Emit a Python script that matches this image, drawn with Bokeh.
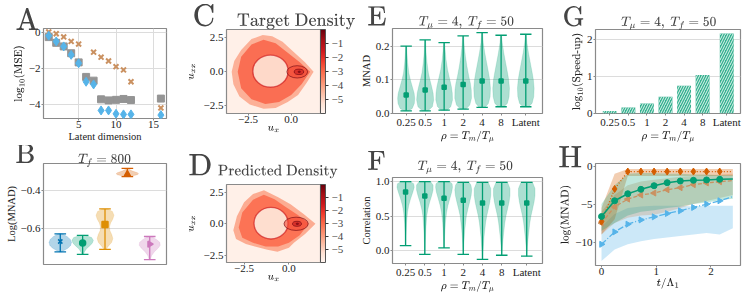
from bokeh.plotting import figure
from bokeh.layouts import row, column
from bokeh.models import (Range1d, FixedTicker, CustomJSTickFormatter, ColorBar,
                          LinearColorMapper, ColumnDataSource)
from bokeh.palettes import Reds256
from bokeh.embed import file_html
from bokeh.resources import INLINE
import math

FONT = "Liberation Serif"
FRAME = "#8a8a8a"
GRID = "#dcdcdc"
C_BLUE, C_ORANGE, C_GREEN, C_RED = "#0173b2", "#de8f05", "#029e73", "#d55e00"
C_PINK, C_BROWN, C_GREY, C_LBLUE = "#cc78bc", "#ca9161", "#949494", "#56b4e9"

# ---------------- data ----------------
a_dims = [1, 2, 3, 4, 5, 6, 7, 8, 9, 10, 11, 12, 16]
a_grey = [-0.25, -0.57, -0.77, -1.15, -1.66, -2.47, -2.68, -3.72, -3.78, -3.75, -3.70, -3.76, -3.68]
a_blue = [-0.17, -0.49, -0.77, -1.24, -1.71, -2.74, -2.89, -4.34, -4.34, -4.53, -4.56, -4.56, -4.60]
a_orange_dims = [1, 2, 3, 4, 5, 7, 8, 9, 10, 11, 12, 16]
a_orange = [0.04, -0.06, -0.24, -0.49, -0.64, -1.09, -1.37, -1.58, -1.90, -2.08, -2.74, -4.20]
a_xticks = [5, 10, 15]
a_yticks = [-4, -2, 0]

b_pos = [0, 1, 2, 3, 4]
b_colors = [C_BLUE, C_GREEN, C_ORANGE, C_RED, C_PINK]
b_mean = [-0.666, -0.674, -0.578, -0.317, -0.680]
b_min = [-0.720, -0.733, -0.707, -0.330, -0.760]
b_max = [-0.626, -0.634, -0.497, -0.287, -0.640]
b_prof_y = [
    [-0.720, -0.710, -0.700, -0.685, -0.670, -0.655, -0.640, -0.626],
    [-0.733, -0.720, -0.705, -0.690, -0.675, -0.660, -0.645, -0.634],
    [-0.707, -0.690, -0.670, -0.650, -0.630, -0.610, -0.590, -0.570, -0.550, -0.530, -0.510, -0.497],
    [-0.330, -0.325, -0.320, -0.315, -0.310, -0.300, -0.290, -0.287],
    [-0.760, -0.740, -0.720, -0.700, -0.685, -0.670, -0.655, -0.640],
]
b_prof_w = [
    [0.05, 0.20, 0.35, 0.47, 0.50, 0.45, 0.30, 0.08],
    [0.03, 0.08, 0.16, 0.30, 0.43, 0.48, 0.40, 0.10],
    [0.04, 0.15, 0.30, 0.35, 0.30, 0.22, 0.20, 0.25, 0.35, 0.40, 0.33, 0.10],
    [0.05, 0.25, 0.45, 0.50, 0.45, 0.20, 0.06, 0.02],
    [0.03, 0.08, 0.20, 0.38, 0.47, 0.45, 0.30, 0.08],
]
b_yticks = [-0.6, -0.4]

# density contours (log density levels)
c_outer_x = [-3.45, -3.35, -3.0, -2.4, -1.6, -0.9, -0.2, 0.4, 0.9, 1.3, 0.8, 0.1, -0.5, -1.1, -1.65, -2.3, -2.9, -3.3]
c_outer_y = [0.0, -0.9, -1.8, -2.4, -2.7, -2.65, -2.2, -1.7, -0.8, 0.0, 0.7, 1.5, 2.2, 2.6, 2.7, 2.4, 1.6, 0.8]
c_core_x = [-3.1, -2.9, -2.3, -1.5, -0.7, 0.0, 0.6, 1.1, 0.5, -0.2, -0.9, -1.6, -2.3, -2.9]
c_core_y = [0.0, -1.2, -2.0, -2.35, -2.2, -1.7, -0.9, 0.0, 0.7, 1.4, 2.1, 2.35, 2.0, 1.1]
c_levels = [-4.1, -2.9]
c_hole = dict(x=-1.2, y=0.05, w=2.05, h=2.35, v=-5.1)
c_spiral = dict(x=[0.35, 0.45, 0.47], y=[0.0, 0.0, 0.0], w=[1.2, 0.55, 0.14], h=[0.9, 0.4, 0.11], v=[-2.4, -1.4, -0.4])

d_outer_x = [-3.1, -2.95, -2.4, -1.9, -1.2, -0.64, 0.0, 0.28, 0.9, 1.48, 0.8, 0.09, -0.6, -1.39, -2.0, -2.5, -2.9]
d_outer_y = [-0.5, -1.2, -1.6, -1.8, -2.05, -2.2, -1.9, -1.5, -0.8, 0.0, 0.8, 1.55, 2.1, 2.65, 2.35, 1.7, 0.6]
d_core_x = [-2.8, -2.6, -2.0, -1.3, -0.6, 0.0, 0.6, 1.1, 0.5, -0.2, -0.8, -1.4, -2.0, -2.6]
d_core_y = [-0.3, -1.1, -1.5, -1.8, -1.8, -1.5, -0.9, 0.0, 0.7, 1.35, 1.95, 2.3, 1.9, 0.9]
d_levels = [-4.0, -3.0]
d_hole = dict(x=-1.0, y=0.05, w=1.9, h=2.5, v=-5.2)
d_spiral = dict(x=[0.4, 0.45, 0.47], y=[0.0, 0.0, 0.0], w=[1.35, 0.5, 0.14], h=[1.05, 0.4, 0.11], v=[-2.5, -1.3, -0.4])
cb_ticks = [-5, -4, -3, -2, -1]

rho_pos = [0, 1, 2, 3, 4, 5, 6.3]
rho_labels = ["0.25", "0.5", "1", "2", "4", "8", "Latent"]
e_mean = [0.055, 0.070, 0.078, 0.086, 0.096, 0.096, 0.096]
e_min = [0.008, 0.008, 0.010, 0.013, 0.018, 0.020, 0.020]
e_max = [0.200, 0.218, 0.210, 0.230, 0.240, 0.232, 0.235]
e_prof_y = [
    [0.008, 0.015, 0.03, 0.045, 0.06, 0.08, 0.10, 0.12, 0.15, 0.18, 0.20],
    [0.008, 0.02, 0.04, 0.06, 0.08, 0.10, 0.12, 0.15, 0.18, 0.218],
    [0.010, 0.02, 0.04, 0.06, 0.08, 0.10, 0.13, 0.16, 0.19, 0.21],
    [0.013, 0.025, 0.045, 0.07, 0.09, 0.11, 0.14, 0.17, 0.20, 0.23],
    [0.018, 0.03, 0.05, 0.075, 0.10, 0.12, 0.15, 0.18, 0.21, 0.24],
    [0.020, 0.03, 0.05, 0.075, 0.10, 0.12, 0.15, 0.18, 0.21, 0.232],
    [0.020, 0.03, 0.05, 0.075, 0.10, 0.12, 0.15, 0.18, 0.21, 0.235],
]
e_prof_w = [
    [0.12, 0.32, 0.43, 0.45, 0.42, 0.32, 0.22, 0.14, 0.08, 0.04, 0.02],
    [0.15, 0.38, 0.45, 0.42, 0.34, 0.25, 0.17, 0.10, 0.05, 0.02],
    [0.15, 0.35, 0.44, 0.43, 0.38, 0.30, 0.18, 0.10, 0.05, 0.02],
    [0.15, 0.35, 0.44, 0.43, 0.38, 0.30, 0.20, 0.12, 0.06, 0.02],
    [0.15, 0.33, 0.42, 0.44, 0.40, 0.34, 0.24, 0.14, 0.06, 0.02],
    [0.15, 0.33, 0.42, 0.44, 0.40, 0.34, 0.24, 0.14, 0.06, 0.02],
    [0.15, 0.33, 0.42, 0.44, 0.40, 0.34, 0.24, 0.14, 0.06, 0.02],
]
f_mean = [0.85, 0.79, 0.76, 0.73, 0.69, 0.69, 0.69]
f_min = [0.07, -0.056, 0.037, -0.056, -0.13, -0.07, -0.084]
f_max = [1.0, 1.0, 1.0, 0.99, 0.99, 0.99, 0.99]
f_prof_y = [
    [0.07, 0.2, 0.4, 0.55, 0.65, 0.75, 0.85, 0.92, 0.97, 1.0],
    [-0.056, 0.1, 0.3, 0.5, 0.6, 0.7, 0.8, 0.88, 0.95, 1.0],
    [0.037, 0.2, 0.4, 0.55, 0.65, 0.75, 0.85, 0.92, 0.97, 1.0],
    [-0.056, 0.1, 0.3, 0.5, 0.6, 0.7, 0.8, 0.88, 0.95, 0.99],
    [-0.13, 0.0, 0.2, 0.4, 0.5, 0.6, 0.7, 0.8, 0.9, 0.99],
    [-0.07, 0.05, 0.2, 0.4, 0.5, 0.6, 0.7, 0.8, 0.9, 0.99],
    [-0.084, 0.05, 0.2, 0.4, 0.5, 0.6, 0.7, 0.8, 0.9, 0.99],
]
f_prof_w = [
    [0.01, 0.02, 0.05, 0.10, 0.16, 0.26, 0.38, 0.45, 0.42, 0.25],
    [0.01, 0.02, 0.05, 0.10, 0.16, 0.25, 0.36, 0.43, 0.43, 0.30],
    [0.01, 0.03, 0.07, 0.13, 0.20, 0.30, 0.40, 0.44, 0.42, 0.30],
    [0.01, 0.03, 0.08, 0.16, 0.24, 0.33, 0.41, 0.44, 0.40, 0.30],
    [0.01, 0.03, 0.08, 0.16, 0.22, 0.30, 0.38, 0.43, 0.43, 0.30],
    [0.01, 0.03, 0.08, 0.16, 0.22, 0.30, 0.38, 0.43, 0.43, 0.30],
    [0.01, 0.03, 0.08, 0.16, 0.22, 0.30, 0.38, 0.43, 0.43, 0.30],
]
g_speedup = [0.07, 0.16, 0.27, 0.45, 0.75, 1.04, 2.16]

h_x = [0, 0.24, 0.48, 0.72, 0.96, 1.2, 1.44, 1.68, 1.92, 2.16, 2.4]
h_orange = [-7.3, -3.0, -0.7, -0.7, -0.7, -0.7, -0.7, -0.7, -0.7, -0.7, -0.7]
h_orange_lo = [-9.0, -7.0, -1.3, -1.3, -1.3, -1.3, -1.3, -1.3, -1.3, -1.3, -1.3]
h_orange_hi = [-5.5, -1.0, -0.35, -0.35, -0.35, -0.35, -0.35, -0.35, -0.35, -0.35, -0.35]
h_green = [-6.64, -4.56, -3.63, -3.05, -2.57, -2.17, -1.95, -1.86, -1.81, -1.73, -1.70]
h_green_lo = [-8.5, -7.5, -6.5, -6.0, -5.8, -5.5, -5.3, -5.0, -4.8, -4.5, -4.3]
h_green_hi = [-5.0, -2.5, -1.0, -0.9, -0.9, -1.0, -1.0, -1.1, -1.1, -1.2, -1.2]
h_brown = [-7.5, -5.35, -4.34, -3.8, -3.54, -3.1, -2.83, -2.43, -2.2, -2.04, -1.9]
h_brown_lo = [-9.0, -7.5, -6.8, -6.5, -6.4, -6.0, -5.5, -5.0, -4.6, -4.2, -3.8]
h_brown_hi = [-6.0, -3.8, -2.5, -2.0, -1.8, -1.6, -1.4, -1.3, -1.2, -1.1, -1.0]
h_blue = [-10.3, -8.67, -7.65, -7.08, -6.68, -6.24, -5.88, -5.44, -5.0, -4.56, -4.0]
h_blue_lo = [-12.5, -11.0, -10.3, -9.9, -9.6, -9.4, -9.2, -9.0, -8.8, -9.0, -8.2]
h_blue_hi = [-8.0, -6.3, -5.5, -5.3, -5.2, -5.2, -5.2, -5.3, -5.2, -5.2, -5.2]


def fmt(dec):
    return CustomJSTickFormatter(code=(
        "const s = Math.abs(tick).toFixed(%d);"
        "return (tick < -1e-9 ? '\\u2212' : '') + s;") % dec)


def make(w, h, xr, yr, bl, br, bt, bb):
    p = figure(width=w, height=h, x_range=Range1d(*xr), y_range=Range1d(*yr),
               output_backend="svg", toolbar_location=None,
               min_border_left=bl, min_border_right=br, min_border_top=bt, min_border_bottom=bb)
    p.outline_line_color = FRAME
    p.outline_line_width = 1.2
    p.xgrid.visible = False
    p.ygrid.visible = False
    p.background_fill_color = "white"
    p.border_fill_color = "white"
    for ax in p.axis:
        ax.axis_line_color = None
        ax.major_tick_line_color = FRAME
        ax.major_tick_out = 2
        ax.major_tick_in = 0
        ax.minor_tick_line_color = None
        ax.major_label_text_font = FONT
        ax.major_label_text_font_size = "11px"
        ax.major_label_text_color = "#222222"
        ax.major_label_standoff = 1
        ax.axis_label_text_font = FONT
        ax.axis_label_text_font_size = "10.5px"
        ax.axis_label_text_font_style = "normal"
        ax.axis_label_text_color = "#222222"
        ax.axis_label_standoff = 1
    p.xaxis.major_label_standoff = 0
    p.xaxis.axis_label_standoff = 0
    return p


def head(p, letter, size_cmd, base_px, title, gap_em, offset, standoff):
    # panel letter and panel title share one title line
    txt = "{%s\\mathrm{%s}}" % (size_cmd, letter)
    if title:
        txt += "\\hspace{%.2fem}%s" % (gap_em, title)
    p.title.text = "$$" + txt + "$$"
    p.title.text_font_size = "%gpx" % base_px
    p.title.text_font_style = "normal"
    p.title.align = "left"
    p.title.offset = offset
    if "standoff" in p.title.properties():
        p.title.standoff = standoff


def violin_shape(pos, ys, ws):
    xs = [pos + w for w in ws] + [pos - w for w in reversed(ws)]
    yy = list(ys) + list(reversed(ys))
    return xs, yy


def violins(p, pos, prof_y, prof_w, vmin, vmax, vmean, colors, markers, cap, alpha, msize):
    for i, ps in enumerate(pos):
        xs, ys = violin_shape(ps, prof_y[i], prof_w[i])
        c = colors[i]
        p.patch(xs, ys, fill_color=c, fill_alpha=alpha, line_color=c, line_alpha=0.15)
        p.segment(x0=[ps], y0=[vmin[i]], x1=[ps], y1=[vmax[i]], line_color=c, line_width=1.3)
        p.segment(x0=[ps - cap, ps - cap], y0=[vmin[i], vmax[i]], x1=[ps + cap, ps + cap],
                  y1=[vmin[i], vmax[i]], line_color=c, line_width=1.3)
        mk, ang = markers[i]
        p.scatter([ps], [vmean[i]], marker=mk, angle=ang, size=msize, fill_color=c, line_color=c,
                  line_width=1.5)


pal = list(Reds256)
def _lum(hx):
    return int(hx[1:3], 16) + int(hx[3:5], 16) + int(hx[5:7], 16)
if _lum(pal[0]) < _lum(pal[-1]):
    pal = pal[::-1]
mapper = LinearColorMapper(palette=pal, low=-6, high=0)


def density(p, ox, oy, core_x, core_y, levels, hole, spiral):
    p.background_fill_color = pal[8]
    src = ColumnDataSource(dict(xs=[ox, core_x], ys=[oy, core_y], v=levels))
    p.patches("xs", "ys", source=src, fill_color={"field": "v", "transform": mapper},
              fill_alpha=0.85, line_color=None)
    hs = ColumnDataSource(dict(x=[hole["x"]], y=[hole["y"]], w=[hole["w"]], h=[hole["h"]], v=[hole["v"]]))
    p.ellipse(x="x", y="y", width="w", height="h", source=hs,
              fill_color={"field": "v", "transform": mapper}, line_color="#cb181d",
              line_alpha=0.65, line_width=1.4)
    ss = ColumnDataSource(spiral)
    p.ellipse(x="x", y="y", width="w", height="h", source=ss,
              fill_color={"field": "v", "transform": mapper}, fill_alpha=0.6,
              line_color="#67000d", line_width=0.8, line_alpha=0.75)
    p.xaxis.ticker = FixedTicker(ticks=[-2.5, 0.0])
    p.yaxis.ticker = FixedTicker(ticks=[-2.5, 0.0, 2.5])
    p.xaxis.formatter = fmt(1)
    p.yaxis.formatter = fmt(1)
    p.xaxis.axis_label = "$$u_x$$"
    p.yaxis.axis_label = "$$u_{xx}$$"
    cb = ColorBar(color_mapper=mapper, ticker=FixedTicker(ticks=cb_ticks), width=5,
                  margin=6, padding=0, label_standoff=3,
                  major_label_text_font=FONT, major_label_text_font_size="11px",
                  major_tick_line_color="#333333", major_tick_out=3, major_tick_in=0,
                  minor_tick_line_color=None, bar_line_color="#555555",
                  border_line_color=None, background_fill_alpha=0)
    p.add_layout(cb, "right")


# ---------------- A ----------------
pA = make(180, 145, (0.3, 16.75), (-4.79, 0.23), 43, 6, 28, 27)
pA.xgrid.visible = True
pA.ygrid.visible = True
pA.xgrid.grid_line_color = GRID
pA.ygrid.grid_line_color = GRID
pA.xaxis.ticker = FixedTicker(ticks=a_xticks)
pA.yaxis.ticker = FixedTicker(ticks=a_yticks)
pA.yaxis.formatter = fmt(0)
pA.xaxis.axis_label = "Latent dimension"
pA.yaxis.axis_label = "$$\\log_{10}(\\mathrm{MSE})$$"
pA.scatter(a_dims, a_grey, marker="square", size=7, fill_color=C_GREY, line_color=C_GREY)
pA.scatter(a_orange_dims, a_orange, marker="x", size=7, line_color=C_BROWN, line_width=2)
pA.scatter(a_dims, a_blue, marker="diamond", size=9, fill_color=C_LBLUE, line_color=C_LBLUE)
head(pA, "A", "\\LARGE", 15, None, 0, -28, -3)

# ---------------- B ----------------
pB = make(180, 153, (-0.75, 4.75), (-0.785, -0.262), 43, 14, 18, 34)
pB.ygrid.visible = True
pB.ygrid.grid_line_color = GRID
pB.xaxis.visible = False
pB.yaxis.ticker = FixedTicker(ticks=b_yticks)
pB.yaxis.formatter = fmt(1)
pB.yaxis.axis_label = "Log(MNAD)"
b_markers = [("x", 0), ("circle", 0), ("square", 0), ("triangle", 0), ("triangle", -math.pi / 2)]
violins(pB, b_pos, b_prof_y, b_prof_w, b_min, b_max, b_mean, b_colors, b_markers, 0.26, 0.3, 6)
head(pB, "B", "\\huge", 10.8, "T_f = 800", 3.15, -28, -7)

# ---------------- C / D ----------------
pC = make(175, 145, (-3.75, 1.7), (-3.05, 3.1), 46, 35, 29, 32)
density(pC, c_outer_x, c_outer_y, c_core_x, c_core_y, c_levels, c_hole, c_spiral)
head(pC, "C", "\\LARGE", 15, "\\text{Target Density}", 1.2, -34, 0)

pD = make(175, 153, (-3.48, 1.76), (-3.06, 3.11), 46, 35, 33, 36)
density(pD, d_outer_x, d_outer_y, d_core_x, d_core_y, d_levels, d_hole, d_spiral)
head(pD, "D", "\\LARGE", 15, "{\\small\\text{Predicted Density}}", 0.3, -38, 12)

# ---------------- E ----------------
TITLE_TF = "T_\\mu = 4,\\ T_f = 50"
RHO = "$$\\rho = T_m/T_\\mu$$"
overrides = {p_: l_ for p_, l_ in zip(rho_pos, rho_labels)}
greens = [C_GREEN] * 7
sq = [("square", 0)] * 7

pE = make(200, 145, (-0.72, 7.18), (0.0, 0.252), 37, 11, 28, 32)
pE.ygrid.visible = True
pE.ygrid.grid_line_color = GRID
pE.xaxis.ticker = FixedTicker(ticks=rho_pos)
pE.xaxis.major_label_overrides = overrides
pE.yaxis.ticker = FixedTicker(ticks=[0.0, 0.1, 0.2])
pE.yaxis.formatter = fmt(1)
pE.xaxis.axis_label = RHO
pE.yaxis.axis_label = "MNAD"
violins(pE, rho_pos, e_prof_y, e_prof_w, e_min, e_max, e_mean, greens, sq, 0.3, 0.33, 4)
head(pE, "E", "\\huge", 10.8, TITLE_TF, 2.37, -25, -2)

# ---------------- F ----------------
pF = make(200, 153, (-0.68, 7.12), (-0.19, 1.06), 37, 13, 29, 35)
pF.ygrid.visible = True
pF.ygrid.grid_line_color = GRID
pF.xaxis.ticker = FixedTicker(ticks=rho_pos)
pF.xaxis.major_label_overrides = overrides
pF.yaxis.ticker = FixedTicker(ticks=[0.0, 0.5, 1.0])
pF.yaxis.formatter = fmt(1)
pF.xaxis.axis_label = RHO
pF.yaxis.axis_label = "Correlation"
violins(pF, rho_pos, f_prof_y, f_prof_w, f_min, f_max, f_mean, greens, sq, 0.3, 0.33, 4)
head(pF, "F", "\\huge", 10.8, TITLE_TF, 2.35, -25, 7)

# ---------------- G ----------------
pG = make(193, 145, (-0.77, 7.04), (0.0, 2.27), 38, 8, 29, 32)
pG.ygrid.visible = True
pG.ygrid.grid_line_color = GRID
pG.xaxis.ticker = FixedTicker(ticks=rho_pos)
pG.xaxis.major_label_overrides = overrides
pG.yaxis.ticker = FixedTicker(ticks=[0, 1, 2])
pG.yaxis.formatter = fmt(0)
pG.xaxis.axis_label = RHO
pG.yaxis.axis_label = "$$\\log_{10}(\\text{Speed-up})$$"
pG.vbar(x=rho_pos, top=g_speedup, width=0.75, fill_color=C_GREEN, fill_alpha=0.8,
        line_color=None, hatch_pattern="/", hatch_color="white", hatch_alpha=0.85,
        hatch_scale=5, hatch_weight=1)
head(pG, "G", "\\huge", 10.8, TITLE_TF, 2.7, -33, -1)

# ---------------- H ----------------
pH = make(193, 153, (-0.11, 2.54), (-13.1, 0.36), 40, 6, 18, 33)
pH.xaxis.ticker = FixedTicker(ticks=[0, 1, 2])
pH.yaxis.ticker = FixedTicker(ticks=[-10, -5, 0])
pH.yaxis.formatter = fmt(0)
pH.xaxis.axis_label = "$$t/\\Lambda_1$$"
pH.yaxis.axis_label = "$$\\log(\\mathrm{MNAD})$$"
pH.varea(x=h_x, y1=h_blue_lo, y2=h_blue_hi, fill_color=C_LBLUE, fill_alpha=0.3)
pH.varea(x=h_x, y1=h_brown_lo, y2=h_brown_hi, fill_color=C_BROWN, fill_alpha=0.3)
pH.varea(x=h_x, y1=h_orange_lo, y2=h_orange_hi, fill_color=C_RED, fill_alpha=0.3)
pH.varea(x=h_x, y1=h_green_lo, y2=h_green_hi, fill_color=C_GREEN, fill_alpha=0.25)
nm = len(h_x) - 1
pH.line(h_x, h_blue, line_color=C_LBLUE, line_width=1.3, line_dash="6 2 1 2")
pH.scatter(h_x[:nm], h_blue[:nm], marker="triangle", angle=-math.pi / 2, size=6,
           fill_color=C_LBLUE, line_color=C_LBLUE)
pH.line(h_x, h_brown, line_color=C_BROWN, line_width=1.3, line_dash="4 2")
pH.scatter(h_x[:nm], h_brown[:nm], marker="triangle", angle=math.pi / 2, size=6,
           fill_color=C_BROWN, line_color=C_BROWN)
pH.line(h_x, h_orange, line_color=C_RED, line_width=1.3, line_dash="1 2")
pH.scatter(h_x[:nm], h_orange[:nm], marker="diamond", size=7, fill_color=C_RED, line_color=C_RED)
pH.line(h_x, h_green, line_color=C_GREEN, line_width=1.5)
pH.scatter(h_x[:nm], h_green[:nm], marker="circle", size=6, fill_color=C_GREEN, line_color=C_GREEN)
head(pH, "H", "\\LARGE", 15, None, 0, -37, -8)

layout = row(column(pA, pB), column(pC, pD), column(pE, pF), column(pG, pH))
open("out.html", "w").write(file_html(layout, INLINE))
